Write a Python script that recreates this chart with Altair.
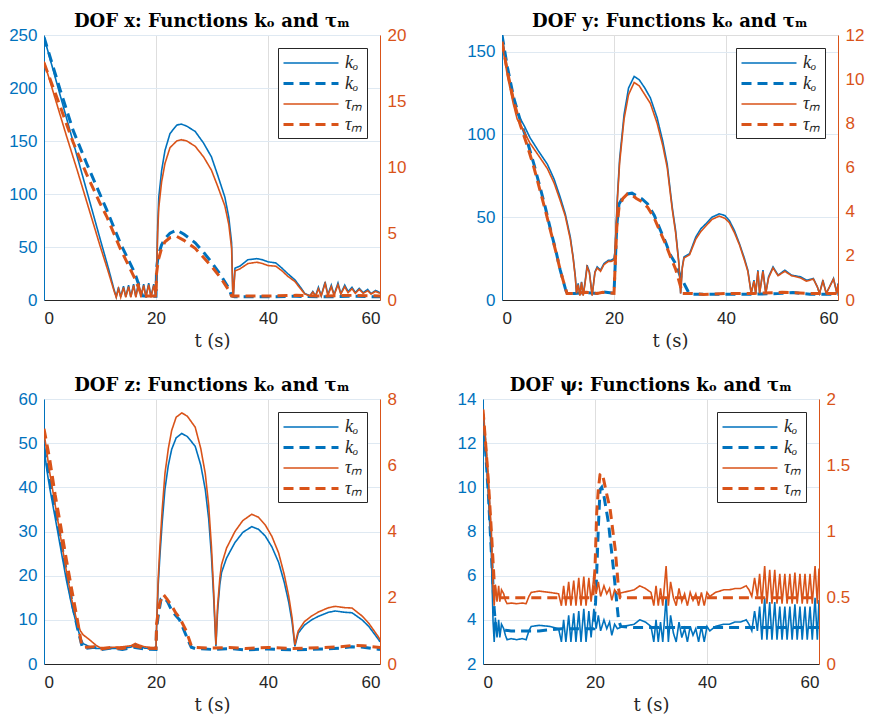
import altair as alt
import pandas as pd

BLUE = "#0072BD"
ORANGE = "#D95319"
DARK = "#262626"

SERIES = ["ko_s", "ko_d", "tau_s", "tau_d"]
COLORS = [BLUE, BLUE, ORANGE, ORANGE]
DASHES = [[1, 0], [10, 6], [1, 0], [10, 6]]
WIDTHS = [1.6, 3.0, 1.6, 3.0]

TITLES = ["DOF x: Functions kₒ and τₘ", "DOF y: Functions kₒ and τₘ",
          "DOF z: Functions kₒ and τₘ", "DOF ψ: Functions kₒ and τₘ"]

# ---------------- DOF x ----------------
X_KO_SOLID = [(0, 248), (2, 210), (4, 172), (6, 134), (8, 96), (10, 58), (11.5, 30), (12.5, 10), (12.9, 3),
              (13.3, 12), (13.7, 3), (14.2, 13), (14.6, 3), (15.1, 14), (15.5, 3), (16.0, 15), (16.4, 3), (16.9, 17),
              (17.3, 3), (17.8, 15), (18.2, 3), (18.7, 16), (19.1, 3), (19.6, 15), (20.0, 3),
              (20.1, 22), (20.3, 70), (20.5, 97), (21, 122), (21.6, 141), (22.5, 157), (23.7, 165), (24.5, 166),
              (25.5, 164), (27, 159), (28.5, 148), (29.9, 135), (31, 118), (32.3, 97), (33, 78), (33.5, 54),
              (33.7, 10), (33.8, 3), (34.1, 30), (35, 32), (36.4, 38), (38, 39), (39, 38), (40, 36), (41.4, 35),
              (42.5, 30), (43.5, 25), (44.8, 19), (45.8, 12), (46.6, 6), (47.5, 4), (48, 8), (48.5, 4), (49, 12),
              (49.5, 4), (50.2, 17), (50.7, 5), (51.3, 14), (51.8, 5), (52.5, 16), (53, 6), (53.7, 14), (54.3, 8),
              (55, 12), (55.6, 7), (56.3, 11), (57, 7), (57.8, 10), (58.4, 6), (59.2, 9), (60, 7)]
X_KO_DASHED = [(0, 248), (2.9, 198), (5.2, 160), (7.6, 129), (11.2, 85), (13.6, 54), (16.25, 25), (17.2, 10),
               (17.6, 4), (18.5, 3.5), (20, 3.5), (20.1, 30), (20.4, 42), (21, 52), (21.6, 58), (22.5, 63),
               (23.7, 66), (25, 62), (27, 54), (28.5, 45), (30, 35), (31.5, 24), (32.9, 12), (33.5, 4), (34, 3),
               (40, 3), (45, 3.5), (50, 3), (55, 3.5), (60, 3)]
X_TAU_SOLID = [(0, 18.0), (2, 15.2), (4, 12.4), (6, 9.7), (8, 6.9), (10, 4.1), (11.5, 2.1), (12.5, 0.7), (12.9, 0.2),
               (13.3, 0.85), (13.7, 0.2), (14.2, 0.95), (14.6, 0.2), (15.1, 1.0), (15.5, 0.2), (16.0, 1.1), (16.4, 0.2),
               (16.9, 1.25), (17.3, 0.2), (17.8, 1.1), (18.2, 0.2), (18.7, 1.15), (19.1, 0.2), (19.6, 1.1), (20.0, 0.2),
               (20.1, 1.6), (20.3, 5.1), (20.5, 7.0), (21, 8.9), (21.6, 10.3), (22.5, 11.5), (23.7, 12.0), (24.5, 12.1),
               (25.5, 12.0), (27, 11.6), (28.5, 10.8), (29.9, 9.8), (31, 8.6), (32.3, 7.1), (33, 5.7), (33.5, 3.9),
               (33.7, 0.7), (33.8, 0.2), (34.1, 2.2), (35, 2.35), (36.4, 2.75), (38, 2.85), (39, 2.75), (40, 2.6),
               (41.4, 2.55), (42.5, 2.2), (43.5, 1.8), (44.8, 1.4), (45.8, 0.85), (46.6, 0.45), (47.5, 0.3), (48, 0.6),
               (48.5, 0.3), (49, 0.85), (49.5, 0.3), (50.2, 1.25), (50.7, 0.35), (51.3, 1.0), (51.8, 0.35), (52.5, 1.15),
               (53, 0.45), (53.7, 1.0), (54.3, 0.55), (55, 0.85), (55.6, 0.5), (56.3, 0.8), (57, 0.5), (57.8, 0.7),
               (58.4, 0.45), (59.2, 0.65), (60, 0.5)]
X_TAU_DASHED = [(0, 17.9), (2.9, 14.6), (5.2, 11.9), (7.6, 9.5), (10, 7.3), (11.2, 6.3), (13.6, 3.9), (16.25, 1.6),
                (17.2, 0.6), (17.6, 0.3), (20, 0.3), (20.1, 2.0), (20.4, 3.0), (21, 3.9), (21.6, 4.4), (22.5, 4.7),
                (23.7, 4.8), (25, 4.5), (27, 3.9), (28.5, 3.2), (30, 2.5), (31.5, 1.7), (32.9, 0.8), (33.5, 0.3),
                (40, 0.3), (45, 0.35), (50, 0.3), (55, 0.35), (60, 0.3)]

# ---------------- DOF y ----------------
Y_KO_SOLID = [(0, 160), (1, 138), (2, 122), (2.7, 113), (4, 105), (5, 98), (6.5, 90), (8.1, 82), (9.3, 73), (10.4, 62),
              (11.3, 52), (12.2, 38), (12.7, 26), (13.1, 14), (13.3, 4), (13.6, 10), (13.9, 3), (14.2, 11), (14.5, 3),
              (14.8, 10), (15.2, 21), (15.6, 17), (16.1, 3), (16.6, 17), (17, 20), (17.6, 18), (18.2, 22), (19, 24),
              (19.5, 24), (20, 25), (20.2, 30), (20.6, 62), (21, 85), (21.8, 112), (22.6, 128), (23.6, 135),
              (24.5, 133), (25.5, 128), (26.5, 122), (27.7, 110), (28.7, 96), (29.5, 82), (30.4, 56), (31, 42),
              (31.6, 22), (31.9, 4), (32.2, 20), (32.5, 26), (33.5, 28), (34.6, 38), (35.5, 43), (36.4, 46),
              (37.5, 50), (38.8, 52), (39.8, 51), (40.6, 48), (41.5, 42), (42.4, 34), (43.3, 25), (43.9, 18),
              (44.5, 4), (45, 12), (45.3, 4), (45.7, 18), (46.0, 4), (46.6, 18), (47.1, 4), (47.6, 14), (48.4, 20),
              (49.3, 15), (50.5, 18), (51.7, 15), (53.3, 14), (54.4, 12), (55.6, 13), (56.3, 8), (56.7, 4), (57.3, 12),
              (57.9, 4), (58.5, 8), (59.2, 13), (59.8, 4), (60, 10)]
Y_KO_DASHED = [(0, 160), (1, 140), (2.1, 122), (3.3, 108), (4.5, 96), (5.7, 82), (6.8, 68), (7.8, 55), (8.7, 42),
               (9.6, 30), (10.4, 18), (11.3, 7), (11.6, 4), (13, 4), (15, 4.5), (17, 4), (18, 5), (20, 4), (20.2, 20),
               (20.5, 45), (20.9, 58), (21.6, 62), (22.4, 64), (23.2, 64.5), (24, 63), (25, 61), (26, 58), (27.2, 51),
               (28.3, 42), (29.2, 35), (30.1, 27), (31, 22), (31.9, 14), (32.8, 8), (33.4, 4), (34, 3.5), (40, 3.5),
               (45, 3.5), (50, 4), (52, 4.5), (55, 3.5), (60, 3.5)]
Y_TAU_SOLID = [(0, 11.6), (1, 10.1), (2, 8.9), (2.7, 8.2), (4, 7.6), (5, 7.1), (6.5, 6.55), (8.1, 5.95), (9.3, 5.3),
               (10.4, 4.5), (11.3, 3.8), (12.2, 2.75), (12.7, 1.9), (13.1, 1.0), (13.3, 0.3), (13.6, 0.7), (13.9, 0.2),
               (14.2, 0.8), (14.5, 0.2), (14.8, 0.7), (15.2, 1.5), (15.6, 1.25), (16.1, 0.2), (16.6, 1.25), (17, 1.45),
               (17.6, 1.3), (18.2, 1.6), (19, 1.75), (19.5, 1.75), (20, 1.8), (20.2, 2.2), (20.6, 4.5), (21, 6.2),
               (21.8, 8.2), (22.6, 9.3), (23.6, 9.85), (24.5, 9.7), (25.5, 9.3), (26.5, 8.9), (27.7, 8.0), (28.7, 7.0),
               (29.5, 6.0), (30.4, 4.1), (31, 3.05), (31.6, 1.6), (31.9, 0.3), (32.2, 1.45), (32.5, 1.9), (33.5, 2.05),
               (34.6, 2.75), (35.5, 3.1), (36.4, 3.35), (37.5, 3.65), (38.8, 3.8), (39.8, 3.7), (40.6, 3.5),
               (41.5, 3.05), (42.4, 2.5), (43.3, 1.8), (43.9, 1.3), (44.5, 0.3), (45, 0.85), (45.3, 0.3), (45.7, 1.3),
               (46.0, 0.3), (46.6, 1.3), (47.1, 0.3), (47.6, 1.0), (48.4, 1.45), (49.3, 1.1), (50.5, 1.3), (51.7, 1.1),
               (53.3, 1.0), (54.4, 0.85), (55.6, 0.95), (56.3, 0.6), (56.7, 0.3), (57.3, 0.85), (57.9, 0.3), (58.5, 0.6),
               (59.2, 0.95), (59.8, 0.3), (60, 0.7)]
Y_TAU_DASHED = [(0, 11.7), (1, 10.3), (2.1, 9.0), (3.3, 7.9), (4.5, 7.0), (5.7, 6.0), (6.8, 4.95), (7.8, 4.0),
                (8.7, 3.1), (9.6, 2.2), (10.4, 1.35), (11.3, 0.55), (11.6, 0.3), (13, 0.3), (15, 0.35), (17, 0.3),
                (18, 0.35), (20, 0.3), (20.2, 1.5), (20.5, 3.3), (20.9, 4.2), (21.6, 4.6), (22.4, 4.8), (23.2, 4.75),
                (24, 4.6), (25, 4.45), (26, 4.2), (27.2, 3.7), (28.3, 3.05), (29.2, 2.55), (30.1, 1.95), (31, 1.4),
                (31.9, 0.6), (32.2, 0.3), (34, 0.3), (36, 0.25), (40, 0.3), (45, 0.3), (50, 0.35), (55, 0.3), (60, 0.3)]

# ---------------- DOF z ----------------
Z_KO_SOLID = [(0, 49), (0.5, 44), (1, 40), (2.3, 31), (3, 26), (4, 19), (5, 13), (5.8, 9), (6.5, 6), (7, 4.6), (8, 4),
              (9.4, 3.5), (12, 3.5), (14, 3.6), (15.5, 3.8), (16.3, 4.5), (17, 4), (18, 3.6), (19, 3.5), (20, 3.5),
              (20.1, 8), (20.4, 18), (20.7, 24.5), (21.1, 32), (21.6, 39.6), (22.2, 45), (22.8, 48.6), (23.6, 51.2),
              (24.6, 52.2), (25.6, 51.5), (27, 49.3), (28, 45), (28.8, 39.5), (29.4, 33), (29.9, 24.5), (30.3, 15),
              (30.7, 4), (31, 12), (31.4, 18), (31.7, 20.7), (32.6, 24), (34.1, 27.5), (35.5, 29.8), (37.1, 31.1),
              (38.3, 30.5), (39.5, 29), (40.7, 26.5), (41.9, 23), (42.9, 18.5), (43.7, 14), (44.3, 9.5), (44.8, 4),
              (45.1, 5.5), (45.4, 7), (46.5, 8.8), (47.8, 10), (49, 10.8), (50.8, 11.7), (52, 12), (53.8, 11.7),
              (55, 11.6), (56.8, 10), (58, 8.5), (59.7, 5.6), (60, 5)]
Z_KO_DASHED = [(0, 49), (1, 42), (2, 35), (3, 28), (4, 21), (5, 14), (6, 8), (6.8, 4), (7, 3.5), (9, 3.8), (10, 3.2),
               (12, 3.6), (14, 3.3), (16, 3.8), (18, 3.4), (20, 3.3), (20.1, 8), (20.4, 10.9), (20.9, 14.7), (21.5, 15),
               (22.1, 14), (22.7, 12.4), (23.5, 11), (24.2, 10), (24.8, 8.2), (25.4, 6.4), (26, 4.6), (26.3, 3.8),
               (27, 3.5), (30, 3.3), (33, 3.5), (36, 3.2), (40, 3.4), (44, 3.2), (47, 3.3), (50, 3.4), (53, 3.6),
               (55, 3.9), (57, 3.8), (60, 3.3)]
Z_TAU_SOLID = [(0, 7.0), (0.5, 6.4), (1, 5.8), (2.3, 4.5), (3, 3.8), (4, 2.8), (5, 1.9), (5.8, 1.35), (6.5, 1.0),
               (7, 0.88), (8, 0.75), (9.4, 0.55), (10, 0.5), (12, 0.5), (14, 0.52), (15.5, 0.55), (16.3, 0.62),
               (17, 0.57), (18, 0.52), (19, 0.5), (20, 0.5), (20.1, 1.15), (20.4, 2.6), (20.7, 3.55), (21.1, 4.65),
               (21.6, 5.75), (22.2, 6.5), (22.8, 7.05), (23.6, 7.45), (24.6, 7.58), (25.6, 7.48), (27, 7.15), (28, 6.5),
               (28.8, 5.75), (29.4, 4.8), (29.9, 3.55), (30.3, 2.2), (30.7, 0.58), (31, 1.75), (31.4, 2.6), (31.7, 3.0),
               (32.6, 3.5), (34.1, 4.0), (35.5, 4.33), (37.1, 4.52), (38.3, 4.43), (39.5, 4.2), (40.7, 3.85),
               (41.9, 3.35), (42.9, 2.7), (43.7, 2.05), (44.3, 1.4), (44.8, 0.58), (45.1, 0.8), (45.4, 1.0), (46.5, 1.28),
               (47.8, 1.45), (49, 1.57), (50.8, 1.7), (52, 1.74), (53.8, 1.7), (55, 1.69), (56.8, 1.45), (58, 1.23),
               (59.7, 0.82), (60, 0.73)]
Z_TAU_DASHED = [(0, 7.1), (1, 6.2), (2, 5.1), (3, 4.15), (4, 3.15), (5, 2.2), (6, 1.3), (6.7, 0.6), (7, 0.5), (9, 0.52),
                (10, 0.45), (12, 0.5), (14, 0.47), (16, 0.55), (18, 0.48), (20, 0.47), (20.1, 1.2), (20.4, 1.6),
                (20.7, 1.86), (21.3, 2.1), (22, 1.95), (22.8, 1.76), (23.5, 1.55), (24.2, 1.4), (24.8, 1.2), (25.4, 1.0),
                (26, 0.7), (26.3, 0.55), (27, 0.5), (30, 0.48), (33, 0.5), (36, 0.47), (40, 0.5), (44, 0.47), (47, 0.48),
                (50, 0.5), (53, 0.52), (55, 0.56), (57, 0.55), (60, 0.5)]

# ---------------- DOF psi ----------------
P_KO_SOLID = [(0, 13.2), (0.5, 11.5), (0.9, 9.9), (1.2, 8.3), (1.5, 6.9), (1.8, 3.9), (2.0, 3.0), (2.2, 4.1), (2.5, 3.2),
              (2.8, 4.0), (3.0, 3.2), (3.3, 3.8), (3.7, 3.6), (4, 3.3), (4.3, 3.1), (5, 3.15), (6, 3.1), (7, 3.15),
              (7.7, 3.1), (8.2, 3.5), (8.6, 3.7), (10, 3.75), (12, 3.7), (13.5, 3.6), (14.0, 3.0), (14.4, 4.0),
              (14.8, 3.0), (15.3, 4.2), (15.7, 3.0), (16.2, 4.3), (16.6, 3.0), (17.1, 4.4), (17.5, 3.0), (18.0, 4.5),
              (18.4, 3.0), (18.9, 4.4), (19.3, 3.2), (19.8, 4.5), (20.2, 3.6), (20.6, 4.2), (21, 3.5), (21.6, 4.0),
              (22.1, 3.6), (22.6, 3.9), (23, 3.3), (23.5, 3.8), (24, 3.6), (25, 3.7), (26, 3.75), (27, 3.8), (28, 4.0),
              (29, 3.9), (30, 3.7), (30.5, 3.0), (30.9, 4.0), (31.3, 3.0), (31.7, 3.9), (32.1, 3.0), (32.7, 5.0),
              (33.1, 3.0), (33.5, 4.2), (34, 3.4), (34.5, 3.0), (35, 3.9), (35.5, 3.2), (36, 3.6), (36.5, 3.0),
              (37, 3.7), (37.5, 3.3), (38, 3.6), (38.5, 3.0), (39, 3.7), (39.5, 3.0), (40, 3.7), (40.5, 3.5),
              (41.5, 3.7), (43, 3.8), (44, 3.8), (45, 3.9), (46, 3.9), (47, 4.0), (47.5, 3.8), (48, 3.5), (48.5, 4.4),
              (49, 3.5), (49.4, 4.6), (49.8, 3.1), (50.3, 5.0), (50.7, 3.1), (51.2, 4.8), (51.6, 3.1), (52.1, 4.8),
              (52.5, 3.1), (53, 4.6), (53.4, 3.1), (53.9, 4.6), (54.3, 3.1), (54.8, 4.6), (55.2, 3.1), (55.7, 4.7),
              (56.1, 3.1), (56.6, 4.6), (57, 3.1), (57.5, 4.6), (57.9, 3.1), (58.4, 4.6), (58.8, 3.1), (59.3, 5.0),
              (59.7, 3.1), (60, 4.9)]
P_KO_DASHED = [(0, 13.3), (0.5, 11.5), (1, 9.5), (1.5, 7.0), (2, 4.5), (2.3, 3.6), (3, 3.55), (5, 3.5), (8, 3.5),
               (10, 3.5), (12, 3.55), (14, 3.6), (16, 3.6), (18, 3.6), (19.8, 3.6), (20.1, 4.8), (20.3, 6.1),
               (20.6, 8.2), (20.9, 9.9), (21.2, 10.0), (21.6, 9.6), (22.4, 8.4), (23.3, 6.3), (23.8, 5.0), (24.2, 4.0),
               (24.6, 3.7), (27, 3.65), (30, 3.65), (35, 3.65), (40, 3.65), (45, 3.65), (50, 3.65), (55, 3.65),
               (60, 3.65)]
P_TAU_SOLID = [(0, 1.92), (0.5, 1.68), (0.9, 1.45), (1.2, 1.22), (1.5, 1.0), (1.8, 0.57), (2.0, 0.44), (2.2, 0.6),
               (2.5, 0.47), (2.8, 0.59), (3.0, 0.47), (3.3, 0.56), (3.7, 0.53), (4, 0.48), (4.3, 0.455), (5, 0.46),
               (6, 0.455), (7, 0.46), (7.7, 0.455), (8.2, 0.51), (8.6, 0.54), (10, 0.55), (12, 0.54), (13.5, 0.53),
               (14.0, 0.44), (14.4, 0.59), (14.8, 0.44), (15.3, 0.62), (15.7, 0.44), (16.2, 0.63), (16.6, 0.44),
               (17.1, 0.65), (17.5, 0.44), (18.0, 0.66), (18.4, 0.44), (18.9, 0.65), (19.3, 0.47), (19.8, 0.66),
               (20.2, 0.53), (20.6, 0.62), (21, 0.51), (21.6, 0.59), (22.1, 0.53), (22.6, 0.57), (23, 0.48),
               (23.5, 0.56), (24, 0.53), (25, 0.54), (26, 0.55), (27, 0.56), (28, 0.59), (29, 0.57), (30, 0.54),
               (30.5, 0.44), (30.9, 0.59), (31.3, 0.44), (31.7, 0.57), (32.1, 0.44), (32.7, 0.74), (33.1, 0.44),
               (33.5, 0.62), (34, 0.5), (34.5, 0.44), (35, 0.57), (35.5, 0.47), (36, 0.53), (36.5, 0.44), (37, 0.54),
               (37.5, 0.48), (38, 0.53), (38.5, 0.44), (39, 0.54), (39.5, 0.44), (40, 0.54), (40.5, 0.51), (41.5, 0.54),
               (43, 0.56), (44, 0.56), (45, 0.57), (46, 0.57), (47, 0.59), (47.5, 0.56), (48, 0.51), (48.5, 0.65),
               (49, 0.51), (49.4, 0.68), (49.8, 0.455), (50.3, 0.74), (50.7, 0.455), (51.2, 0.71), (51.6, 0.455),
               (52.1, 0.71), (52.5, 0.455), (53, 0.68), (53.4, 0.455), (53.9, 0.68), (54.3, 0.455), (54.8, 0.68),
               (55.2, 0.455), (55.7, 0.69), (56.1, 0.455), (56.6, 0.68), (57, 0.455), (57.5, 0.68), (57.9, 0.455),
               (58.4, 0.68), (58.8, 0.455), (59.3, 0.74), (59.7, 0.455), (60, 0.72)]
P_TAU_DASHED = [(0, 1.92), (0.5, 1.65), (1, 1.35), (1.5, 1.0), (2, 0.62), (2.3, 0.5), (3, 0.5), (5, 0.5), (10, 0.5),
                (15, 0.5), (19.6, 0.5), (20, 0.72), (20.3, 1.14), (20.6, 1.32), (20.9, 1.43), (21.2, 1.44),
                (21.5, 1.40), (22, 1.3), (22.7, 1.17), (23.2, 1.0), (23.6, 0.87), (24.2, 0.57), (24.5, 0.5), (30, 0.5),
                (35, 0.5), (40, 0.5), (45, 0.5), (50, 0.5), (55, 0.5), (60, 0.5)]

LEFT_DOMAINS = [[0, 250], [0, 160], [0, 60], [2, 14]]
LEFT_TICKS = [[0, 50, 100, 150, 200, 250], [0, 50, 100, 150], [0, 10, 20, 30, 40, 50, 60], [2, 4, 6, 8, 10, 12, 14]]
RIGHT_DOMAINS = [[0, 20], [0, 12], [0, 8], [0, 2]]
RIGHT_TICKS = [[0, 5, 10, 15, 20], [0, 2, 4, 6, 8, 10, 12], [0, 2, 4, 6, 8], [0, 0.5, 1, 1.5, 2]]
X_TICKS = [0, 20, 40, 60]

PANELS = [
    (X_KO_SOLID, X_KO_DASHED, X_TAU_SOLID, X_TAU_DASHED),
    (Y_KO_SOLID, Y_KO_DASHED, Y_TAU_SOLID, Y_TAU_DASHED),
    (Z_KO_SOLID, Z_KO_DASHED, Z_TAU_SOLID, Z_TAU_DASHED),
    (P_KO_SOLID, P_KO_DASHED, P_TAU_SOLID, P_TAU_DASHED),
]

W, H = 336, 265
LABEL_FONT = "Liberation Sans"
SERIF = "Liberation Serif"
WIDE_SERIF = "DejaVu Serif"


def make_panel(i):
    rows = []
    for key, pts in zip(SERIES, PANELS[i]):
        for order, (t, v) in enumerate(pts):
            rows.append({"t": t, "v": v, "s": key, "o": order})
    df = pd.DataFrame(rows)

    x = alt.X("t:Q", scale=alt.Scale(domain=[0, 60], nice=False),
              axis=alt.Axis(values=X_TICKS, title="t (s)", grid=True, gridColor="#dedede",
                            labelColor=DARK, domainColor=DARK, ticks=False, tickSize=0,
                            labelPadding=10, titleFont=WIDE_SERIF, titleFontSize=18, titleFontWeight="normal",
                            titleColor=DARK, titlePadding=6, labelFontSize=17, labelFont=LABEL_FONT))
    color = alt.Color("s:N", scale=alt.Scale(domain=SERIES, range=COLORS),
                      legend=alt.Legend(title=None, orient="top-right", offset=13,
                                        symbolType="M-1,0L4.5,0", symbolSize=400,
                                        labelExpr="indexof(datum.value, 'ko') == 0 ? 'kₒ' : 'τₘ'",
                                        labelFont=SERIF, labelFontStyle="italic", labelFontSize=18,
                                        labelColor=DARK, fillColor="white", strokeColor=DARK, padding=4,
                                        rowPadding=0, labelOffset=40))
    dash = alt.StrokeDash("s:N", scale=alt.Scale(domain=SERIES, range=DASHES), legend=None)
    width = alt.StrokeWidth("s:N", scale=alt.Scale(type="ordinal", domain=SERIES, range=WIDTHS), legend=None)

    base = alt.Chart(df).mark_line(clip=True, strokeCap="butt")

    left = base.transform_filter(alt.FieldOneOfPredicate(field="s", oneOf=["ko_s", "ko_d"])).encode(
        x=x,
        y=alt.Y("v:Q", scale=alt.Scale(domain=LEFT_DOMAINS[i], nice=False, zero=False),
                axis=alt.Axis(values=LEFT_TICKS[i], orient="left", title=None, grid=True, gridColor="#dfe9f2",
                              labelColor=BLUE, domainColor=BLUE, ticks=False, tickSize=0, labelPadding=7,
                              labelFontSize=17, labelFont=LABEL_FONT, format="~r")),
        color=color, strokeDash=dash, strokeWidth=width, order="o:Q")
    right = base.transform_filter(alt.FieldOneOfPredicate(field="s", oneOf=["tau_s", "tau_d"])).encode(
        x=x,
        y=alt.Y("v:Q", scale=alt.Scale(domain=RIGHT_DOMAINS[i], nice=False, zero=False),
                axis=alt.Axis(values=RIGHT_TICKS[i], orient="right", title=None, grid=False,
                              labelColor=ORANGE, domainColor=ORANGE, ticks=False, tickSize=0, labelPadding=7,
                              labelFontSize=17, labelFont=LABEL_FONT, format="~r")),
        color=color, strokeDash=dash, strokeWidth=width, order="o:Q")
    return alt.layer(left, right).resolve_scale(y="independent").properties(
        width=W, height=H,
        title=alt.TitleParams(TITLES[i], font=WIDE_SERIF, fontSize=18, fontWeight="bold", color="black",
                              offset=-5, anchor="middle"))


res = dict(color="independent", strokeDash="independent", strokeWidth="independent")
row1 = alt.hconcat(make_panel(0), make_panel(1), spacing=59).resolve_scale(**res)
row2 = alt.hconcat(make_panel(2), make_panel(3), spacing=59).resolve_scale(**res)
chart = alt.vconcat(row1, row2, spacing=25).resolve_scale(**res).properties(
    padding={"left": 0, "top": 4, "right": 2, "bottom": 0}).configure_view(
    stroke=DARK, strokeWidth=1).configure(background="white")

chart.save("out.html", embed_options={"renderer": "svg", "actions": False})
